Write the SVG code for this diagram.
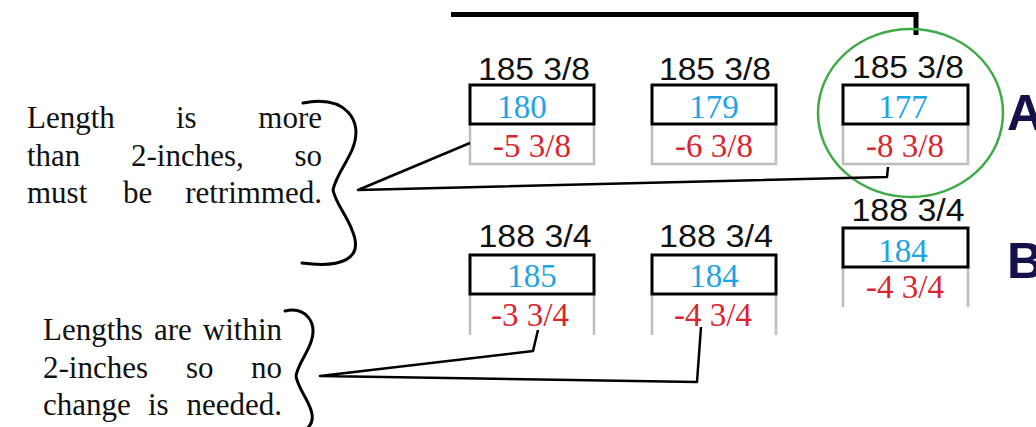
<svg xmlns="http://www.w3.org/2000/svg" width="1036" height="427" viewBox="0 0 1036 427">
  <style>
    .lbl { font-family: "Liberation Sans", Arial, sans-serif; font-size: 31px; fill: #111; text-anchor: middle; }
    .val { font-family: "Liberation Serif", "Times New Roman", serif; font-size: 33px; fill: #1ea3e6; text-anchor: middle; }
    .diff { font-family: "Liberation Serif", "Times New Roman", serif; font-size: 33px; fill: #d8262e; text-anchor: middle; }
    .note { font-family: "Liberation Serif", "Times New Roman", serif; font-size: 31px; fill: #111; }
    .end { text-anchor: end; }
    .box { fill: #fff; stroke: #000; stroke-width: 3; }
    .gray { fill: none; stroke: #bdbdbd; stroke-width: 2.5; }
    .row { font-family: "Liberation Sans", Arial, sans-serif; font-weight: bold; font-size: 50px; fill: #15124a; }
    .wire { fill: none; stroke: #000; stroke-width: 2.5; stroke-linejoin: round; }
    .brace { fill: none; stroke: #000; stroke-width: 3; stroke-linecap: round; }
  </style>

  <rect width="1036" height="427" fill="#fff"/>

  <!-- header bar -->
  <g id="bar">
    <path d="M451 14.5 H916 V35" fill="none" stroke="#000" stroke-width="5"/>
  </g>

  <!-- row A -->
  <g id="a1">
    <text class="lbl" x="534" y="80" textLength="112" lengthAdjust="spacingAndGlyphs">185 3/8</text>
    <path class="gray" d="M470 124 V164 H594 V124"/>
    <rect class="box" x="470" y="85" width="124" height="39"/>
    <text class="val" x="522" y="118">180</text>
    <text class="diff" x="532" y="157">-5 3/8</text>
  </g>
  <g id="a2">
    <text class="lbl" x="715" y="80" textLength="112" lengthAdjust="spacingAndGlyphs">185 3/8</text>
    <path class="gray" d="M652 124 V164 H776 V124"/>
    <rect class="box" x="652" y="85" width="124" height="39"/>
    <text class="val" x="714" y="118">179</text>
    <text class="diff" x="714" y="157">-6 3/8</text>
  </g>
  <g id="a3">
    <text class="lbl" x="908" y="78" textLength="112" lengthAdjust="spacingAndGlyphs">185 3/8</text>
    <path class="gray" d="M843 124 V164 H968 V124"/>
    <rect class="box" x="843" y="85" width="125" height="39"/>
    <text class="val" x="903" y="118">177</text>
    <text class="diff" x="905" y="157">-8 3/8</text>
    <ellipse cx="910.5" cy="113" rx="92.5" ry="84" fill="none" stroke="#3fab48" stroke-width="2.5"/>
  </g>
  <g id="rowA">
    <text class="row" x="1007" y="130">A</text>
  </g>

  <!-- row B -->
  <g id="b1">
    <text class="lbl" x="535" y="247" textLength="113" lengthAdjust="spacingAndGlyphs">188 3/4</text>
    <path class="gray" d="M470 294 V335 M594 294 V335"/>
    <rect class="box" x="470" y="255" width="124" height="39"/>
    <text class="val" x="532" y="287">185</text>
    <text class="diff" x="530" y="326">-3 3/4</text>
  </g>
  <g id="b2">
    <text class="lbl" x="716" y="247" textLength="114" lengthAdjust="spacingAndGlyphs">188 3/4</text>
    <path class="gray" d="M652 294 V335 M776 294 V335"/>
    <rect class="box" x="652" y="255" width="124" height="39"/>
    <text class="val" x="714" y="287">184</text>
    <text class="diff" x="713" y="326">-4 3/4</text>
  </g>
  <g id="b3">
    <text class="lbl" x="908" y="221" textLength="113" lengthAdjust="spacingAndGlyphs">188 3/4</text>
    <path class="gray" d="M843 267 V307 M968 267 V307"/>
    <rect class="box" x="843" y="228" width="125" height="39"/>
    <text class="val" x="903" y="262">184</text>
    <text class="diff" x="905" y="298">-4 3/4</text>
  </g>
  <g id="rowB">
    <text class="row" x="1007" y="278">B</text>
  </g>

  <!-- explanatory notes with braces -->
  <g id="note-retrim">
    <text class="note" y="128"><tspan x="27">Length</tspan><tspan x="176">is</tspan><tspan x="322" class="end">more</tspan></text>
    <text class="note" y="166"><tspan x="27">than</tspan><tspan x="131">2-inches,</tspan><tspan x="322" class="end">so</tspan></text>
    <text class="note" y="203"><tspan x="27">must</tspan><tspan x="123">be</tspan><tspan x="322" class="end">retrimmed.</tspan></text>
    <path class="brace" d="M303 103 C345 95, 365 120, 352 150 C345 166, 336 176, 333 190 C336 204, 346 214, 352 230 C365 260, 340 268, 302 263"/>
  </g>
  <g id="note-ok">
    <text class="note" y="340"><tspan x="43">Lengths</tspan><tspan x="154">are</tspan><tspan x="282" class="end">within</tspan></text>
    <text class="note" y="378"><tspan x="43">2-inches</tspan><tspan x="186">so</tspan><tspan x="282" class="end">no</tspan></text>
    <text class="note" y="415"><tspan x="43">change</tspan><tspan x="148">is</tspan><tspan x="282" class="end">needed.</tspan></text>
    <path class="brace" d="M285 311 C305 306, 318 322, 311 342 C306 356, 298 364, 296 376 C298 388, 306 396, 311 410 C316 425, 305 432, 295 434"/>
  </g>

  <!-- pointer lines -->
  <g id="connectors">
    <path class="wire" d="M470 143 L358 190 L887 177 L888 167"/>
    <path class="wire" d="M538 330 L533 351 L320 376 L697 382 L701 327"/>
  </g>
</svg>
